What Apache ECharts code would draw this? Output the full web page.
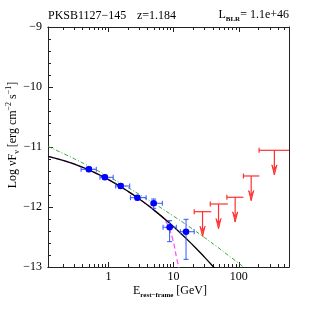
<!DOCTYPE html>
<html><head><meta charset="utf-8">
<script src="https://cdn.jsdelivr.net/npm/echarts@6/dist/echarts.min.js"></script>
<style>html,body{margin:0;padding:0;background:#fff}#c{width:316px;height:316px}</style>
</head><body><div id="c"></div>
<script>
// ---- data ----
const ptE    = [0.50, 0.88, 1.54, 2.78, 4.94, 8.68, 15.5];
const ptElo  = [0.38, 0.74, 1.29, 2.17, 4.55, 6.88, 12.7];
const ptEhi  = [0.65, 1.18, 2.12, 3.78, 6.71, 11.0, 20.7];
const ptY    = [-11.372, -11.505, -11.65, -11.845, -11.938, -12.338, -12.412];
const ptYlo  = [-11.41, -11.54, -11.69, -11.88, -12.022, -12.578, -12.872];
const ptYhi  = [-11.335, -11.47, -11.61, -11.81, -11.867, -12.228, -12.205];

const ulE    = [27.8, 48.9, 88, 155, 352];
const ulElo  = [20.7, 36.5, 65.7, 118, 205];
const ulEhi  = [37.8, 68, 118, 207, 600];
const ulY    = [-12.078, -11.95, -11.838, -11.483, -11.055];

const blackE = [0.118, 0.2, 0.3, 0.5, 1, 2, 3, 5, 10, 20, 30, 41, 45];
const blackY = [-11.155, -11.222, -11.286, -11.382, -11.544, -11.740, -11.870, -12.052, -12.329, -12.641, -12.839, -13.0, -13.05];

const greenE = [0.118, 0.3, 1, 3, 10, 30, 100, 120];
const greenY = [-10.992, -11.197, -11.493, -11.792, -12.153, -12.512, -12.938, -13.006];

const magE   = [0.118, 0.3, 1, 3, 5, 7.33, 9.44, 11.27, 11.94, 12.3];
const magY   = [-11.155, -11.286, -11.544, -11.870, -12.052, -12.217, -12.495, -12.883, -12.995, -13.13];

const xMajor = [1, 10, 100];
const xMinor = [0.2,0.3,0.4,0.5,0.6,0.7,0.8,0.9,2,3,4,5,6,7,8,9,20,30,40,50,60,70,80,90,200,300,400,500];
const xMin = 0.118, xMax = 590;
const yMin = -13, yMax = -9;

// ---- chart ----
const FONT = 'Liberation Serif';
const zip = (a, b) => a.map((v, i) => [v, b[i]]);
const chart = echarts.init(document.getElementById('c'), null, {renderer: 'canvas'});

function xAx(pos, ticks, len, labels) {
  return {
    type: 'log', logBase: 10, min: xMin, max: xMax, position: pos,
    axisLine: {show: true, onZero: false, lineStyle: {color: '#222', width: 1}},
    axisTick: {show: true, inside: true, length: len, customValues: ticks, lineStyle: {color: '#222'}},
    axisLabel: labels ? {show: true, customValues: xMajor, color: '#000', fontFamily: FONT, fontSize: 12, margin: 4,
                         formatter: v => String(Math.round(v))} : {show: false},
    splitLine: {show: false}, minorTick: {show: false}
  };
}

const option = {
  animation: false,
  backgroundColor: '#fff',
  grid: {left: 48, right: 27, top: 27, bottom: 49, containLabel: false, outerBoundsMode: 'none'},
  xAxis: [
    xAx('bottom', xMajor, 5, true),
    xAx('bottom', xMinor, 3, false),
    xAx('top', xMajor, 5, false),
    xAx('top', xMinor, 3, false)
  ],
  yAxis: [
    {type: 'value', min: yMin, max: yMax, interval: 1, position: 'left',
     axisLine: {show: true, onZero: false, lineStyle: {color: '#222'}},
     axisTick: {show: true, inside: true, length: 5, lineStyle: {color: '#222'}},
     minorTick: {show: true, splitNumber: 5, length: 3, lineStyle: {color: '#222'}},
     axisLabel: {color: '#000', fontFamily: FONT, fontSize: 12, margin: 6,
                 formatter: v => String(v).replace('-', '\u2212')},
     splitLine: {show: false}},
    {type: 'value', min: yMin, max: yMax, interval: 1, position: 'right',
     axisLine: {show: true, onZero: false, lineStyle: {color: '#222'}},
     axisTick: {show: false}, axisLabel: {show: false}, splitLine: {show: false}}
  ],
  graphic: [
    {type: 'text', left: 48, top: 10, style: {text: 'PKSB1127\u2212145', font: '12px ' + FONT, fill: '#000'}},
    {type: 'text', left: 137, top: 10, style: {text: 'z=1.184', font: '12px ' + FONT, fill: '#000'}},
    {type: 'text', x: 289, y: 16, style: {text: '{a|L}{s|BLR}{a|= 1.1e+46}', align: 'right', verticalAlign: 'middle',
      rich: {a: {fontFamily: FONT, fontSize: 12, fill: '#000', lineHeight: 14, verticalAlign: 'top'},
             s: {fontFamily: FONT, fontSize: 7, fontWeight: 'bold', fill: '#000', lineHeight: 14, verticalAlign: 'bottom'}}}},
    {type: 'text', x: 13, y: 135, rotation: Math.PI / 2,
     style: {text: '{a|Log \u03bdF}{s|\u03bd}{a| [erg cm}{p|\u22122}{a| s}{p|\u22121}{a|]}', align: 'center', verticalAlign: 'middle',
      rich: {a: {fontFamily: FONT, fontSize: 12, fill: '#000', lineHeight: 16, verticalAlign: 'middle'},
             s: {fontFamily: FONT, fontSize: 8, fill: '#000', lineHeight: 16, verticalAlign: 'bottom'},
             p: {fontFamily: FONT, fontSize: 8, fill: '#000', lineHeight: 16, verticalAlign: 'top'}}}},
    {type: 'text', x: 170, y: 291,
     style: {text: '{a|E}{s|rest\u2212frame}{a| [GeV]}', align: 'center', verticalAlign: 'middle',
      rich: {a: {fontFamily: FONT, fontSize: 12, fill: '#000', lineHeight: 16, verticalAlign: 'middle'},
             s: {fontFamily: FONT, fontSize: 7, fontWeight: 'bold', fill: '#000', lineHeight: 16, verticalAlign: 'bottom'}}}}
  ],
  series: [
    {type: 'line', data: zip(greenE, greenY), smooth: 0.4, showSymbol: false, z: 2,
     lineStyle: {color: '#3aaa3a', width: 1, type: [4, 2, 1, 2]}},
    {type: 'line', data: zip(magE, magY), smooth: 0.4, showSymbol: false, z: 2,
     lineStyle: {color: '#ff55ff', width: 1.3, type: [5, 3]}},
    {type: 'line', data: zip(blackE, blackY), smooth: 0.4, showSymbol: false, z: 3,
     lineStyle: {color: '#000', width: 1.3}},
    {type: 'custom', z: 5,
     data: ptE.map((e, i) => [e, ptY[i], ptElo[i], ptEhi[i], ptYlo[i], ptYhi[i]]),
     encode: {x: 0, y: 1},
     renderItem: (params, api) => {
       const p = api.coord([api.value(0), api.value(1)]);
       const l = api.coord([api.value(2), api.value(1)]);
       const r = api.coord([api.value(3), api.value(1)]);
       const lo = api.coord([api.value(0), api.value(4)]);
       const hi = api.coord([api.value(0), api.value(5)]);
       const st = {stroke: '#3355ff', lineWidth: 1};
       const c = 2.5;
       return {type: 'group', children: [
         {type: 'line', shape: {x1: l[0], y1: p[1], x2: r[0], y2: p[1]}, style: st},
         {type: 'line', shape: {x1: l[0], y1: p[1] - c, x2: l[0], y2: p[1] + c}, style: st},
         {type: 'line', shape: {x1: r[0], y1: p[1] - c, x2: r[0], y2: p[1] + c}, style: st},
         {type: 'line', shape: {x1: p[0], y1: lo[1], x2: p[0], y2: hi[1]}, style: st},
         {type: 'line', shape: {x1: p[0] - c, y1: lo[1], x2: p[0] + c, y2: lo[1]}, style: st},
         {type: 'line', shape: {x1: p[0] - c, y1: hi[1], x2: p[0] + c, y2: hi[1]}, style: st},
         {type: 'circle', shape: {cx: p[0], cy: p[1], r: 3.3}, style: {fill: '#0000ff'}}
       ]};
     }},
    {type: 'custom', z: 5,
     data: ulE.map((e, i) => [e, ulY[i], ulElo[i], ulEhi[i]]),
     encode: {x: 0, y: 1},
     renderItem: (params, api) => {
       const cs = params.coordSys;
       const p = api.coord([api.value(0), api.value(1)]);
       const l = api.coord([api.value(2), api.value(1)]);
       const r = api.coord([api.value(3), api.value(1)]);
       const tip = api.coord([api.value(0), api.value(1) - 0.41]);
       const x1 = Math.max(l[0], cs.x), x2 = Math.min(r[0], cs.x + cs.width);
       const st = {stroke: '#ff3030', lineWidth: 1.2};
       const c = 2.5;
       return {type: 'group', children: [
         {type: 'line', shape: {x1: x1, y1: p[1], x2: x2, y2: p[1]}, style: st},
         {type: 'line', shape: {x1: l[0], y1: p[1] - c, x2: l[0], y2: p[1] + c}, style: st},
         {type: 'line', shape: {x1: p[0], y1: p[1], x2: p[0], y2: tip[1]}, style: st},
         {type: 'polygon', shape: {points: [[p[0] - 2.5, tip[1] - 10], [p[0], tip[1]], [p[0] + 2.5, tip[1] - 10], [p[0], tip[1] - 5]]},
          style: {fill: '#ff6060', stroke: '#ff3030', lineWidth: 1}}
       ]};
     }}
  ]
};
chart.setOption(option);
</script></body></html>
